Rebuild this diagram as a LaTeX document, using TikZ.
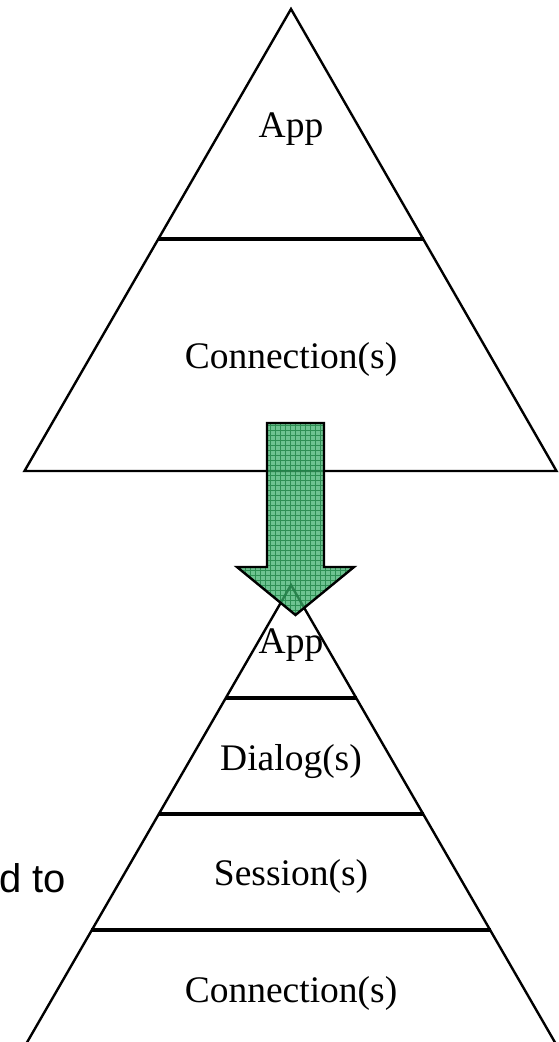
\documentclass[tikz,border=0pt]{standalone}
\usepackage{fontspec}
\setmainfont{Liberation Serif}
\newfontfamily\arialfont{Liberation Sans}
\definecolor{arrowfill}{RGB}{62,175,108}
\definecolor{arrowgrid}{RGB}{30,130,70}
\begin{document}
\begin{tikzpicture}[x=1pt,y=-1pt,
  edge/.style={line width=2.4pt, line join=miter},
  divider/.style={line width=4.4pt},
  lbl/.style={font=\fontsize{37.5}{40}\selectfont, inner sep=0pt, anchor=base},
  ]
\useasboundingbox (0,0) rectangle (559,1042);
% top triangle
\coordinate (tA) at (291,9);
\coordinate (tL) at (24.5,471);
\coordinate (tR) at (556.5,471);
\draw[edge] (tA) -- (tL) -- (tR) -- cycle;
\coordinate (tdL) at (158,239);
\coordinate (tdR) at (424,239);
\draw[divider] (tdL) -- (tdR);
% bottom triangle
\coordinate (bA) at (291,585);
\coordinate (bL) at (25.5,1045);
\coordinate (bR) at (556.5,1045);
\draw[edge] (bL) -- (bA) -- (bR);
\coordinate (d1L) at (226,698);
\coordinate (d1R) at (357,698);
\coordinate (d2L) at (159,814);
\coordinate (d2R) at (424,814);
\coordinate (d3L) at (91,930);
\coordinate (d3R) at (491,930);
\draw[divider] (d1L) -- (d1R);
\draw[divider] (d2L) -- (d2R);
\draw[divider] (d3L) -- (d3R);
% arrow
\coordinate (a1) at (267,423);
\coordinate (a2) at (324,423);
\coordinate (a3) at (324,567);
\coordinate (a4) at (354,567);
\coordinate (a5) at (295.5,615);
\coordinate (a6) at (237,567);
\coordinate (a7) at (267,567);
\fill[arrowfill, fill opacity=0.75] (a1) -- (a2) -- (a3) -- (a4) -- (a5) -- (a6) -- (a7) -- cycle;
\begin{scope}
\clip (a1) -- (a2) -- (a3) -- (a4) -- (a5) -- (a6) -- (a7) -- cycle;
\draw[arrowgrid, line width=0.7pt, opacity=0.8, step=5pt] (230,420) grid (360,620);
\end{scope}
\draw[line width=2.4pt, line join=miter] (a1) -- (a2) -- (a3) -- (a4) -- (a5) -- (a6) -- (a7) -- cycle;
% labels
\node[lbl] (tApp) at (291,137) {App};
\node[lbl] (tConn) at (291,368) {Connection(s)};
\node[lbl] (bApp) at (291,653) {App};
\node[lbl] (bDialog) at (291,770) {Dialog(s)};
\node[lbl] (bSession) at (291,885) {Session(s)};
\node[lbl] (bConn) at (291,1002) {Connection(s)};
\node[font=\arialfont\fontsize{40}{44}\selectfont, anchor=base east, inner sep=0pt] (dto) at (66,892) {d to};
\end{tikzpicture}
\end{document}
